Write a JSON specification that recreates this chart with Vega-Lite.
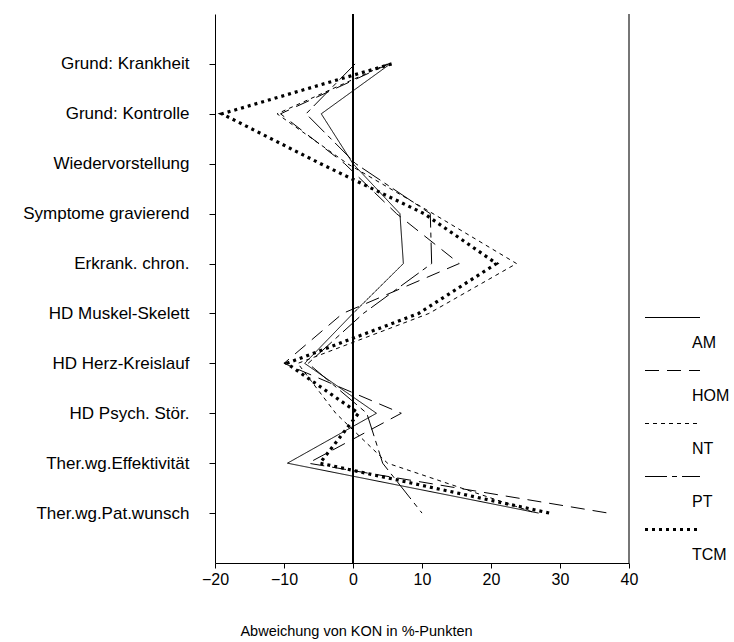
{
  "$schema": "https://vega.github.io/schema/vega-lite/v6.json",
  "autosize": {"type": "none"},
  "padding": {"left": 215, "top": 14, "right": 105, "bottom": 79},
  "width": 414,
  "height": 549,
  "background": "white",
  "config": {
    "font": "Liberation Sans",
    "view": {"stroke": null},
    "axis": {"grid": false, "domainColor": "black", "tickColor": "black", "labelColor": "black", "titleColor": "black", "labelFontSize": 16, "titleFontSize": 14.5, "titleFontWeight": "normal"}
  },
  "data": {"values": [
    {"k": "Grund: Krankheit", "i": 1, "s": "AM", "v": 5.4},
    {"k": "Grund: Kontrolle", "i": 2, "s": "AM", "v": -4.6},
    {"k": "Wiedervorstellung", "i": 3, "s": "AM", "v": 0.0},
    {"k": "Symptome gravierend", "i": 4, "s": "AM", "v": 6.8},
    {"k": "Erkrank. chron.", "i": 5, "s": "AM", "v": 7.3},
    {"k": "HD Muskel-Skelett", "i": 6, "s": "AM", "v": 0.0},
    {"k": "HD Herz-Kreislauf", "i": 7, "s": "AM", "v": -7.0},
    {"k": "HD Psych. Stör.", "i": 8, "s": "AM", "v": 3.4},
    {"k": "Ther.wg.Effektivität", "i": 9, "s": "AM", "v": -9.5},
    {"k": "Ther.wg.Pat.wunsch", "i": 10, "s": "AM", "v": 26.9},
    {"k": "Grund: Krankheit", "i": 1, "s": "HOM", "v": 5.2},
    {"k": "Grund: Kontrolle", "i": 2, "s": "HOM", "v": -10.5},
    {"k": "Wiedervorstellung", "i": 3, "s": "HOM", "v": -1.2},
    {"k": "Symptome gravierend", "i": 4, "s": "HOM", "v": 6.3},
    {"k": "Erkrank. chron.", "i": 5, "s": "HOM", "v": 15.4},
    {"k": "HD Muskel-Skelett", "i": 6, "s": "HOM", "v": -1.5},
    {"k": "HD Herz-Kreislauf", "i": 7, "s": "HOM", "v": -10.0},
    {"k": "HD Psych. Stör.", "i": 8, "s": "HOM", "v": 7.0},
    {"k": "Ther.wg.Effektivität", "i": 9, "s": "HOM", "v": -6.5},
    {"k": "Ther.wg.Pat.wunsch", "i": 10, "s": "HOM", "v": 37.0},
    {"k": "Grund: Krankheit", "i": 1, "s": "NT", "v": 5.0},
    {"k": "Grund: Kontrolle", "i": 2, "s": "NT", "v": -11.0},
    {"k": "Wiedervorstellung", "i": 3, "s": "NT", "v": -0.8},
    {"k": "Symptome gravierend", "i": 4, "s": "NT", "v": 11.6},
    {"k": "Erkrank. chron.", "i": 5, "s": "NT", "v": 23.7},
    {"k": "HD Muskel-Skelett", "i": 6, "s": "NT", "v": 11.0},
    {"k": "HD Herz-Kreislauf", "i": 7, "s": "NT", "v": -8.0},
    {"k": "HD Psych. Stör.", "i": 8, "s": "NT", "v": -2.5},
    {"k": "Ther.wg.Effektivität", "i": 9, "s": "NT", "v": 5.0},
    {"k": "Ther.wg.Pat.wunsch", "i": 10, "s": "NT", "v": 26.5},
    {"k": "Grund: Krankheit", "i": 1, "s": "PT", "v": 0.3},
    {"k": "Grund: Kontrolle", "i": 2, "s": "PT", "v": -6.8},
    {"k": "Wiedervorstellung", "i": 3, "s": "PT", "v": 0.4},
    {"k": "Symptome gravierend", "i": 4, "s": "PT", "v": 11.2},
    {"k": "Erkrank. chron.", "i": 5, "s": "PT", "v": 11.4},
    {"k": "HD Muskel-Skelett", "i": 6, "s": "PT", "v": 1.5},
    {"k": "HD Herz-Kreislauf", "i": 7, "s": "PT", "v": -6.5},
    {"k": "HD Psych. Stör.", "i": 8, "s": "PT", "v": 2.0},
    {"k": "Ther.wg.Effektivität", "i": 9, "s": "PT", "v": 4.3},
    {"k": "Ther.wg.Pat.wunsch", "i": 10, "s": "PT", "v": 10.0},
    {"k": "Grund: Krankheit", "i": 1, "s": "TCM", "v": 5.6},
    {"k": "Grund: Kontrolle", "i": 2, "s": "TCM", "v": -19.0},
    {"k": "Wiedervorstellung", "i": 3, "s": "TCM", "v": -4.7},
    {"k": "Symptome gravierend", "i": 4, "s": "TCM", "v": 10.3},
    {"k": "Erkrank. chron.", "i": 5, "s": "TCM", "v": 20.8},
    {"k": "HD Muskel-Skelett", "i": 6, "s": "TCM", "v": 9.5},
    {"k": "HD Herz-Kreislauf", "i": 7, "s": "TCM", "v": -9.6},
    {"k": "HD Psych. Stör.", "i": 8, "s": "TCM", "v": 0.8},
    {"k": "Ther.wg.Effektivität", "i": 9, "s": "TCM", "v": -4.8},
    {"k": "Ther.wg.Pat.wunsch", "i": 10, "s": "TCM", "v": 28.5}
  ]},
  "layer": [
    {
      "mark": {"type": "rule", "color": "black", "strokeWidth": 1.2},
      "encoding": {"x": {"datum": 0, "type": "quantitative"}}
    },
    {
      "mark": {"type": "rule", "color": "#777", "strokeWidth": 1},
      "encoding": {"x": {"datum": 40, "type": "quantitative"}}
    },
    {
      "mark": {"type": "line", "color": "black"},
      "encoding": {
        "y": {"field": "k", "type": "ordinal", "sort": {"field": "i"}, "scale": {"type": "point", "padding": 1.02},
          "axis": {"title": null, "tickSize": 6, "labelPadding": 20, "labelAlign": "right", "labelLimit": 300, "labelFontSize": 17}},
        "x": {"field": "v", "type": "quantitative", "scale": {"domain": [-20, 40], "nice": false, "zero": false},
          "axis": {"title": "Abweichung von KON in %-Punkten", "values": [-20,-15,-10,-5,0,5,10,15,20,25,30,35,40], "labelExpr": "datum.value % 10 === 0 ? datum.label : ''", "tickSize": 5, "labelPadding": 3, "titleX": 141, "titleY": 72, "titleAlign": "center", "titleBaseline": "alphabetic", "titleAnchor": "middle", "labelFlush": false}},
        "order": {"field": "i", "type": "quantitative"},
        "detail": {"field": "s"},
        "strokeDash": {"field": "s", "type": "nominal", "title": null,
          "scale": {"domain": ["AM", "HOM", "NT", "PT", "TCM"], "range": [[1, 0], [14, 8], [4, 4], [22, 5, 5, 5], [3, 4]]},
          "legend": {"orient": "none", "legendX": 449.5, "legendY": 295.5, "symbolType": "M-5.5,0H5.5", "symbolSize": 100, "symbolStrokeColor": "black", "labelFontSize": 16, "labelOffset": 11.5, "labelBaseline": "top", "labelExpr": "['', datum.label]", "rowPadding": 12, "padding": 0,
            "encode": {"labels": {"update": {"lineHeight": {"value": 17}}}, "symbols": {"update": {"strokeWidth": {"signal": "datum.value === 'TCM' ? 3.2 : 1"}}}}}},
        "strokeWidth": {"condition": {"test": "datum.s === 'TCM'", "value": 3.2}, "value": 1}
      }
    }
  ]
}
